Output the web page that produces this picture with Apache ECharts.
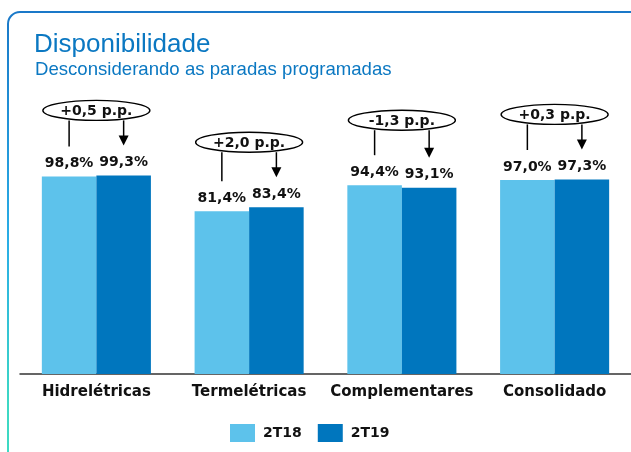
<!DOCTYPE html>
<html>
<head>
<meta charset="utf-8">
<script src="https://cdn.jsdelivr.net/npm/echarts@6/dist/echarts.min.js"></script>
<style>
html,body{margin:0;padding:0;background:#fff;}
#chart{width:631px;height:452px;}
</style>
</head>
<body>
<div id="chart"></div>
<script>
const categories = ['Hidrelétricas', 'Termelétricas', 'Complementares', 'Consolidado'];
const values2T18 = [98.8, 81.4, 94.4, 97.0];
const values2T19 = [99.3, 83.4, 93.1, 97.3];
const deltaLabels = ['+0,5 p.p.', '+2,0 p.p.', '-1,3 p.p.', '+0,3 p.p.'];
const seriesNames = ['2T18', '2T19'];

const FONT = 'DejaVu Sans';
const GAP = 0.286;
const fmt = v => v.toFixed(1).replace('.', ',') + '%';

const chart = echarts.init(document.getElementById('chart'));

const annoData = categories.map((c, i) => [i, values2T18[i], values2T19[i]]);

function renderAnno(params, api) {
  const i = api.value(0);
  const v18 = api.value(1);
  const v19 = api.value(2);
  const band = api.size([1, 0])[0];
  const bw = band * (1 - GAP) / 2;
  const top = api.coord([i, Math.max(v18, v19)]);
  const p18 = api.coord([i, v18]);
  const p19 = api.coord([i, v19]);
  const cx = top[0];
  const cy = top[1] - 65;
  const lx = cx - bw / 2;
  const rx = cx + bw / 2;
  const tipY = p19[1] - 30;
  return {
    type: 'group',
    children: [
      { type: 'line', shape: { x1: lx, y1: cy + 10, x2: lx, y2: p18[1] - 30 },
        style: { stroke: '#000', lineWidth: 1.5 } },
      { type: 'line', shape: { x1: rx, y1: cy + 10, x2: rx, y2: tipY - 9 },
        style: { stroke: '#000', lineWidth: 1.5 } },
      { type: 'polygon', shape: { points: [[rx - 5, tipY - 10], [rx + 5, tipY - 10], [rx, tipY]] },
        style: { fill: '#000' } },
      { type: 'ellipse', shape: { cx: cx, cy: cy, rx: 53.5, ry: 10 },
        style: { fill: '#fff', stroke: '#000', lineWidth: 1.4 } },
      { type: 'text', x: cx, y: cy + 1,
        style: { text: deltaLabels[params.dataIndex], fill: '#111', font: 'bold 14px "' + FONT + '"',
                 align: 'center', verticalAlign: 'middle' } }
    ]
  };
}

const labelStyle = {
  show: true, position: 'top', distance: 6,
  fontFamily: FONT, fontWeight: 'bold', fontSize: 14, color: '#111',
  formatter: p => fmt(p.value)
};

chart.setOption({
  animation: false,
  graphic: [{
    type: 'rect',
    shape: { x: 8, y: 12, width: 640, height: 460, r: 12 },
    style: {
      fill: 'none', lineWidth: 2,
      stroke: new echarts.graphic.LinearGradient(0, 0, 0, 1, [
        { offset: 0, color: '#1A78C8' },
        { offset: 0.5, color: '#2AAEE6' },
        { offset: 0.85, color: '#3DD8C4' },
        { offset: 1, color: '#3EDAC2' }
      ])
    },
    silent: true,
    z: -10
  }],
  title: [
    { text: 'Disponibilidade', left: 34, top: 32, padding: 0,
      textStyle: { fontFamily: 'Liberation Sans', fontSize: 26, fontWeight: 'normal', color: '#0B78C2' } },
    { text: 'Desconsiderando as paradas programadas', left: 35, top: 60, padding: 0,
      textStyle: { fontFamily: 'Liberation Sans', fontSize: 18.6, fontWeight: 'normal', color: '#0B78C2' } }
  ],
  legend: {
    left: 230, top: 424, padding: 0,
    itemWidth: 25, itemHeight: 18, itemGap: 16,
    icon: 'rect',
    data: seriesNames,
    textStyle: { fontFamily: FONT, fontWeight: 'bold', fontSize: 14, color: '#111', padding: [0, 0, 0, 3] }
  },
  grid: { left: 20, right: 0, top: 174, bottom: 78, containLabel: false },
  xAxis: {
    type: 'category', data: categories,
    axisLine: { show: true, lineStyle: { color: '#333', width: 1.5 } },
    axisTick: { show: false },
    axisLabel: { fontFamily: FONT, fontWeight: 'bold', fontSize: 15, color: '#111', margin: 11, interval: 0 }
  },
  yAxis: {
    type: 'value', min: 0, max: 100, show: false, splitLine: { show: false }
  },
  series: [
    { name: seriesNames[0], type: 'bar', data: values2T18, barGap: '0%', barCategoryGap: (GAP * 100) + '%',
      itemStyle: { color: '#5DC2EB' }, label: labelStyle },
    { name: seriesNames[1], type: 'bar', data: values2T19, barGap: '0%', barCategoryGap: (GAP * 100) + '%',
      itemStyle: { color: '#0076BE' }, label: labelStyle },
    { name: 'anno', type: 'custom', data: annoData, renderItem: renderAnno, z: 5, silent: true,
      encode: { x: 0, y: [1, 2] } }
  ]
});
</script>
</body>
</html>
